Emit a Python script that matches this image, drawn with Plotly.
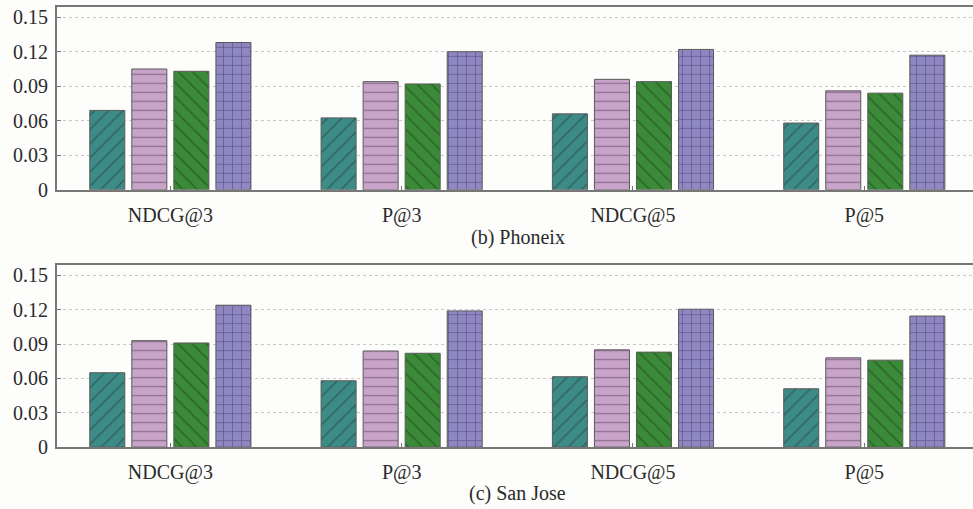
import plotly.graph_objects as go
from plotly.subplots import make_subplots

# Metrics on the x axis
categories = ["NDCG@3", "P@3", "NDCG@5", "P@5"]

# Phoenix scores, one list per method
phoenix_m1 = [0.069, 0.0625, 0.066, 0.058]
phoenix_m2 = [0.105, 0.094, 0.096, 0.086]
phoenix_m3 = [0.103, 0.092, 0.094, 0.084]
phoenix_m4 = [0.128, 0.120, 0.122, 0.117]

# San Jose scores, one list per method
sanjose_m1 = [0.065, 0.058, 0.0615, 0.051]
sanjose_m2 = [0.093, 0.084, 0.085, 0.078]
sanjose_m3 = [0.091, 0.082, 0.083, 0.076]
sanjose_m4 = [0.124, 0.119, 0.1205, 0.1145]

y_ticks = [0, 0.03, 0.06, 0.09, 0.12, 0.15]
y_tick_text = ["0", "0.03", "0.06", "0.09", "0.12", "0.15"]
panel_titles = ["(b) Phoneix", "(c) San Jose"]

styles = [
    dict(color="#3d8b86", shape="/", fg="#2b4f4d", size=10),
    dict(color="#c8a4c9", shape="-", fg="#7a5a7c", size=9),
    dict(color="#3b8a37", shape="\\", fg="#234f22", size=10),
    dict(color="#8e87c1", shape="+", fg="#4a416e", size=9),
]

W, H = 973, 509
fig = make_subplots(rows=2, cols=1)

panels = [
    [phoenix_m1, phoenix_m2, phoenix_m3, phoenix_m4],
    [sanjose_m1, sanjose_m2, sanjose_m3, sanjose_m4],
]
for r, series in enumerate(panels, start=1):
    for s, vals in zip(styles, series):
        fig.add_trace(
            go.Bar(
                x=categories,
                y=vals,
                marker=dict(
                    color=s["color"],
                    line=dict(color="#5a5a5a", width=1),
                    pattern=dict(shape=s["shape"], fgcolor=s["fg"], size=s["size"],
                                 solidity=0.15, fgopacity=0.7),
                ),
                showlegend=False,
            ),
            row=r, col=1,
        )

# Plot-area pixel boxes (top, bottom) for each panel
boxes = [(7, 194), (271, 457)]
serif = "Liberation Serif, Times New Roman, serif"
axis_col = "#777777"
text_col = "#2a2a2a"
for i, (top, bot) in enumerate(boxes, start=1):
    fig.update_yaxes(
        domain=[1 - bot / H, 1 - top / H],
        range=[0, 0.159],
        tickvals=y_ticks, ticktext=y_tick_text,
        ticks="inside", ticklen=4, tickcolor=axis_col,
        showgrid=True, gridcolor="#c8c8c8", griddash="dot", gridwidth=1,
        showline=True, linecolor=axis_col, linewidth=2,
        zeroline=False, ticklabelstandoff=3,
        tickfont=dict(family=serif, size=20, color=text_col),
        row=i, col=1,
    )
    fig.update_xaxes(
        range=[-0.49, 3.47],
        ticks="inside", ticklen=4, tickcolor=axis_col,
        showline=True, mirror=True, linecolor=axis_col, linewidth=2,
        showgrid=False, ticklabelstandoff=6,
        tickfont=dict(family=serif, size=20, color=text_col),
        row=i, col=1,
    )

# Panel captions below each chart
fig.add_annotation(
    text=panel_titles[0], x=0.503, y=1 - 243 / H, xref="paper", yref="paper",
    showarrow=False, xanchor="center", yanchor="middle",
    font=dict(family=serif, size=20, color=text_col),
)
fig.add_annotation(
    text=panel_titles[1], x=0.503, y=0, xref="paper", yref="paper",
    showarrow=False, xanchor="center", yanchor="bottom", yshift=-9,
    font=dict(family=serif, size=20, color=text_col),
)

fig.update_layout(
    width=W, height=H,
    margin=dict(l=57, r=0, t=0, b=0),
    barmode="group", bargap=0.273, bargroupgap=0.167,
    paper_bgcolor="#fdfdfb", plot_bgcolor="#fdfdfb",
)

fig.write_html("out.html")
